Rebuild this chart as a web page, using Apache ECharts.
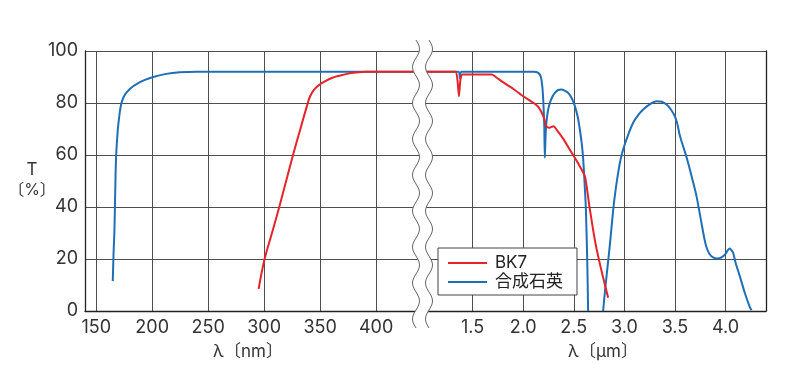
<!DOCTYPE html>
<html><head><meta charset="utf-8">
<script src="https://cdn.jsdelivr.net/npm/echarts@6/dist/echarts.min.js"></script>
<style>html,body{margin:0;padding:0;background:#fff}#c{width:800px;height:390px}</style>
</head><body><div id="c"></div>
<script>
const seriesNames = ['BK7', '合成石英'];
const yTicks = [0, 20, 40, 60, 80, 100];
const nmTicks = [150, 200, 250, 300, 350, 400];
const umTicks = [1.5, 2.0, 2.5, 3.0, 3.5, 4.0];
const nmRange = [140, 441];
const umRange = [1.0, 4.4];

// BK7, nm section
const bk7Nm = [[295.1,8.5],[300.3,19.8],[307,30],[313.7,40.3],[325.5,59.5],[333,71],[338,78.5],[341,82.5],[345,85.3],[350,87.2],[355.4,88.6],[361,89.7],[367.2,90.5],[374,91.2],[382.1,91.7],[391,92],[441,92]];
// synthetic quartz, nm section
const silicaNm = [[164.8,11.5],[165.5,22],[166.3,31.3],[167,46],[167.8,59.5],[169.3,69.8],[170.8,75.5],[172.3,79.5],[174.5,82.3],[177,84],[181,85.8],[186,87.3],[193,88.8],[201,90],[212.5,91.2],[224.4,91.8],[240,92],[300,92],[441,92]];
// BK7, µm section
const bk7Um = [[1.0,92],[1.33,92],[1.35,89],[1.365,82.6],[1.38,89],[1.40,91],[1.69,91],[1.74,89.7],[1.80,88],[1.90,85.5],[2.0,82.6],[2.10,80.1],[2.15,78.5],[2.20,74.9],[2.23,71],[2.26,70.5],[2.30,71.1],[2.33,69.8],[2.40,66],[2.46,62.1],[2.54,57],[2.61,51.8],[2.65,41.5],[2.69,31.5],[2.725,24],[2.78,14.5],[2.84,5.1]];
// synthetic quartz, µm section
const silicaUm = [[1.0,92],[1.36,92],[1.375,89.5],[1.39,92],[2.10,92],[2.15,91.6],[2.175,90],[2.19,86],[2.198,81.3],[2.208,72],[2.214,58.9],[2.222,68],[2.231,73],[2.245,77],[2.264,80.1],[2.29,82.5],[2.313,83.9],[2.345,85],[2.379,85.2],[2.41,84.8],[2.445,83.9],[2.48,81.8],[2.511,78.8],[2.54,74.5],[2.56,69.8],[2.58,64],[2.593,58.5],[2.61,47],[2.62,39],[2.634,18],[2.642,0],[2.7,null],[2.79,0],[2.807,7],[2.824,13.4],[2.857,25.5],[2.89,39],[2.915,47],[2.939,53.2],[2.96,57.8],[2.988,62.1],[3.04,68],[3.087,72.4],[3.14,75.5],[3.186,77.5],[3.25,79.5],[3.318,80.7],[3.37,80.5],[3.417,79.4],[3.46,77.5],[3.499,74.9],[3.52,72.5],[3.532,70.5],[3.545,68],[3.565,65.3],[3.6,61],[3.63,57],[3.67,51],[3.713,44.2],[3.762,33.9],[3.79,28],[3.812,24.5],[3.84,22],[3.877,20.6],[3.92,20.2],[3.96,20.6],[4.0,22],[4.025,23.5],[4.042,24],[4.06,23.3],[4.075,22.4],[4.1,18.5],[4.141,13.4],[4.19,7],[4.24,1.5],[4.257,0.3]];

const RED = '#e5232a', BLUE = '#1f6fb6';
const FONT = 'Inter, "Noto Sans CJK JP", sans-serif';
const GRIDC = '#4e4e4e';

function wave(x0) {
  const pts = [];
  for (let y = 40; y <= 328; y += 2) pts.push([x0 + 3.5 * Math.sin((y - 40) / 36 * 2 * Math.PI), y]);
  return pts;
}
const wl = wave(416), wr = wave(429);

const chart = echarts.init(document.getElementById('c'), null, {renderer: 'canvas'});
const labelStyle = {color: '#333', fontSize: 18, fontFamily: FONT};
const yBase = {
  type: 'value', min: yTicks[0], max: yTicks[yTicks.length - 1], interval: 20
};
chart.setOption({
  animation: false,
  backgroundColor: '#fff',
  grid: [
    {left: 85, top: 51, width: 337, height: 260, outerBoundsMode: 'none', containLabel: false},
    {left: 422, top: 51, width: 344, height: 260, outerBoundsMode: 'none', containLabel: false}
  ],
  xAxis: [
    {type: 'value', gridIndex: 0, min: nmRange[0], max: nmRange[1],
     axisLine: {show: true, lineStyle: {color: '#222', width: 1.3}},
     axisTick: {show: false, customValues: nmTicks},
     axisLabel: Object.assign({customValues: nmTicks, margin: 8}, labelStyle),
     splitLine: {show: true, lineStyle: {color: GRIDC, width: 1}}},
    {type: 'value', gridIndex: 1, min: umRange[0], max: umRange[1],
     axisLine: {show: true, lineStyle: {color: '#222', width: 1.3}},
     axisTick: {show: false, customValues: umTicks},
     axisLabel: Object.assign({customValues: umTicks, margin: 8, formatter: v => v.toFixed(1)}, labelStyle),
     splitLine: {show: true, lineStyle: {color: GRIDC, width: 1}}}
  ],
  yAxis: [
    Object.assign({gridIndex: 0,
     axisLine: {show: true, lineStyle: {color: '#222', width: 1.3}},
     axisTick: {show: false},
     axisLabel: Object.assign({margin: 7}, labelStyle),
     splitLine: {show: true, lineStyle: {color: GRIDC, width: 1}}}, yBase),
    Object.assign({gridIndex: 1, position: 'right',
     axisLine: {show: true, lineStyle: {color: '#222', width: 1.3}},
     axisTick: {show: false},
     axisLabel: {show: false},
     splitLine: {show: true, lineStyle: {color: GRIDC, width: 1}}}, yBase)
  ],
  legend: {
    data: seriesNames, orient: 'vertical', left: 438, top: 248,
    padding: [6, 14, 4, 10], itemGap: 1, itemWidth: 39, itemHeight: 2, icon: 'rect',
    backgroundColor: '#fff', borderColor: '#444', borderWidth: 1, borderRadius: 0,
    textStyle: {color: '#222', fontSize: 17, fontFamily: FONT, lineHeight: 18, padding: [0, 0, 0, 3]}
  },
  series: [
    {name: seriesNames[1], type: 'line', xAxisIndex: 0, yAxisIndex: 0, data: silicaNm, symbol: 'none', smooth: 0.4, lineStyle: {color: BLUE, width: 2}, itemStyle: {color: BLUE}, z: 2},
    {name: seriesNames[1], type: 'line', xAxisIndex: 1, yAxisIndex: 1, data: silicaUm, symbol: 'none', smooth: 0.25, connectNulls: false, lineStyle: {color: BLUE, width: 2}, itemStyle: {color: BLUE}, z: 2},
    {name: seriesNames[0], type: 'line', xAxisIndex: 0, yAxisIndex: 0, data: bk7Nm, symbol: 'none', smooth: 0.4, lineStyle: {color: RED, width: 2}, itemStyle: {color: RED}, z: 3},
    {name: seriesNames[0], type: 'line', xAxisIndex: 1, yAxisIndex: 1, data: bk7Um, symbol: 'none', smooth: 0.2, lineStyle: {color: RED, width: 2}, itemStyle: {color: RED}, z: 3}
  ],
  graphic: [
    {type: 'polygon', z: 100, shape: {points: wl.concat(wr.slice().reverse())}, style: {fill: '#fff'}},
    {type: 'polyline', z: 101, shape: {points: wl}, style: {stroke: '#666', lineWidth: 1, fill: null}},
    {type: 'polyline', z: 101, shape: {points: wr}, style: {stroke: '#666', lineWidth: 1, fill: null}},
    {type: 'text', z: 102, x: 32, y: 170, style: {text: 'T', fill: '#333', fontSize: 17, fontFamily: FONT, align: 'center', verticalAlign: 'middle'}},
    {type: 'text', z: 102, x: 32, y: 190, style: {text: '〔%〕', fill: '#333', fontSize: 16, fontFamily: FONT, align: 'center', verticalAlign: 'middle'}},
    {type: 'text', z: 102, x: 248, y: 352, style: {text: 'λ〔nm〕', fill: '#333', fontSize: 17, fontFamily: FONT, align: 'center', verticalAlign: 'middle'}},
    {type: 'text', z: 102, x: 603, y: 352, style: {text: 'λ〔μm〕', fill: '#333', fontSize: 17, fontFamily: FONT, align: 'center', verticalAlign: 'middle'}}
  ]
});
</script></body></html>
